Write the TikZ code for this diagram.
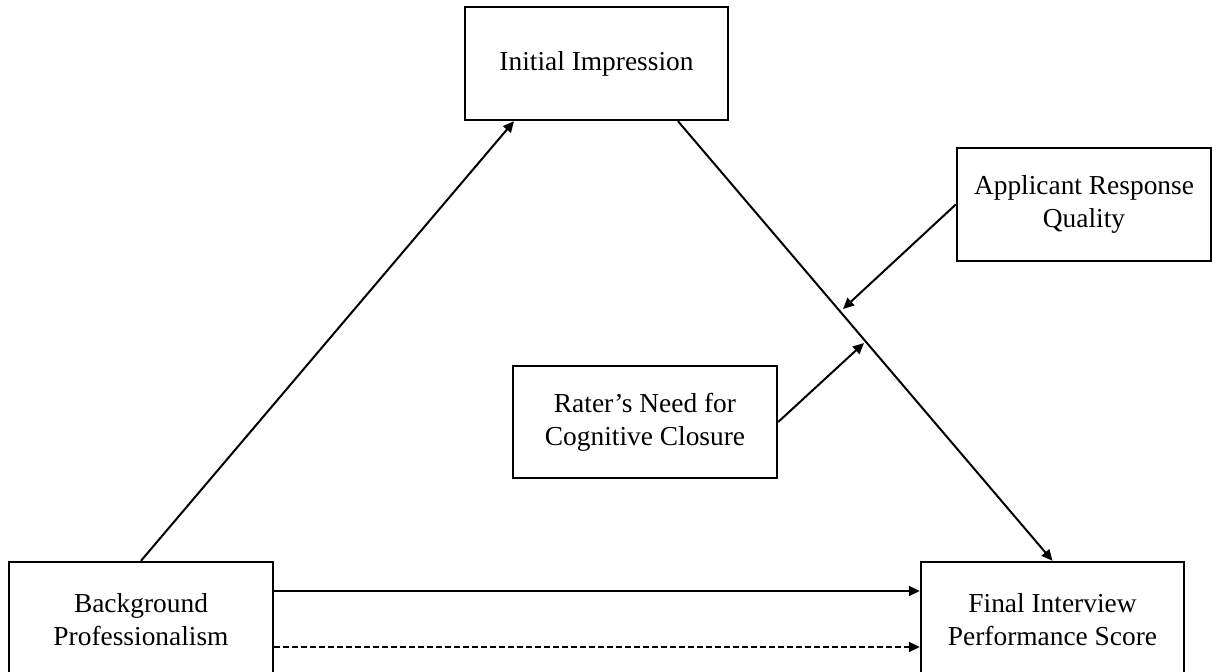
\documentclass[tikz,border=0pt]{standalone}
\usepackage{fontspec}
\setmainfont{Liberation Serif}
\usetikzlibrary{arrows.meta}

\tikzset{
  var/.style={draw, line width=1.2pt, align=center, inner sep=0pt,
    minimum width=#1, minimum height=56.5pt,
    font=\fontsize{13.7}{16.5}\selectfont},
  var/.default=132pt,
  link/.style={line width=1pt, -{Triangle[length=5.5pt,width=5pt]}}
}

\begin{document}
\begin{tikzpicture}[x=0.5pt, y=-0.5pt]
      \useasboundingbox (0,0) rectangle (1212,672);

      \node[var=131.5pt] (init) at (596.5,63.5) {Initial Impression};
      \node[var=127pt] (appl) at (1084,204.5) {Applicant Response\\Quality};
      \node[var, minimum height=56pt] (rater) at (645,422) {Rater’s Need for\\Cognitive Closure};
      \node[var, minimum height=58pt] (bg) at (141,620) {Background\\Professionalism};
      \node[var=131.5pt, minimum height=58pt] (final) at (1052.5,620) {Final Interview\\Performance Score};

      \coordinate (m1) at (843,309);
      \coordinate (m2) at (864,343);

      \draw[link] (bg.north) -- ([xshift=-41.25pt]init.south);
      \draw[link] ([xshift=40.75pt]init.south) -- (final.north);
      \draw[link] (appl.west) -- (m1);
      \draw[link] (rater.east) -- (m2);

      \draw[link] ([yshift=14.5pt]bg.east) -- ([yshift=14.5pt]final.west);
      \draw[link, dash pattern=on 2.8pt off 1.7pt] ([yshift=-13.5pt]bg.east) -- ([yshift=-13.5pt]final.west);

    \end{tikzpicture}
\end{document}
